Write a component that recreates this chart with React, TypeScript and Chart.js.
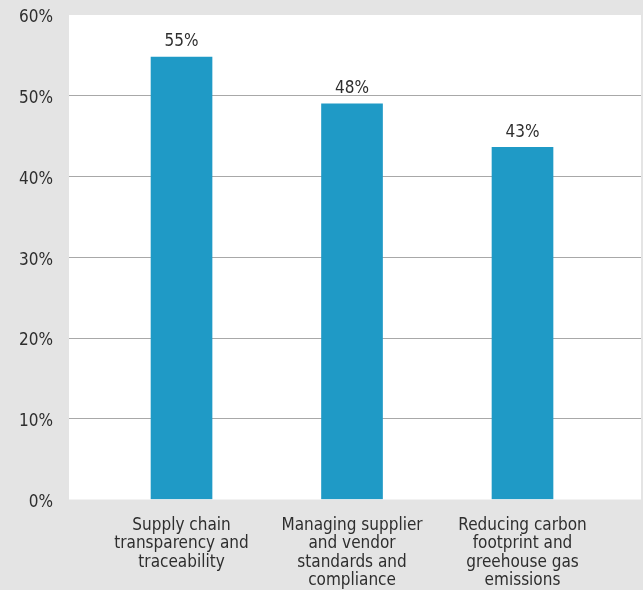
import React, { useEffect, useRef } from "react";
import { Chart, registerables } from "chart.js";

Chart.register(...registerables);

const categories: string[][] = [
  ["Supply chain", "transparency and", "traceability"],
  ["Managing supplier", "and vendor", "standards and", "compliance"],
  ["Reducing carbon", "footprint and", "greehouse gas", "emissions"],
];
const values: number[] = [54.8, 49.0, 43.6];
const valueLabels: string[] = ["55%", "48%", "43%"];
const yTicks: number[] = [0, 10, 20, 30, 40, 50, 60];

const FONT = "'DejaVu Sans Condensed', 'DejaVu Sans', sans-serif";
const TEXT = "#2e2e2e";

const plotBg = {
  id: "plotBg",
  beforeDraw(chart: any) {
    const { ctx, chartArea } = chart;
    ctx.save();
    ctx.fillStyle = "#ffffff";
    ctx.fillRect(chartArea.left, chartArea.top, chartArea.right - chartArea.left, chartArea.bottom - chartArea.top);
    ctx.restore();
  },
};

const barLabels = {
  id: "barLabels",
  afterDatasetsDraw(chart: any) {
    const { ctx } = chart;
    const meta = chart.getDatasetMeta(0);
    ctx.save();
    ctx.font = `17px ${FONT}`;
    ctx.fillStyle = TEXT;
    ctx.textAlign = "center";
    ctx.textBaseline = "middle";
    meta.data.forEach((bar: any, i: number) => {
      ctx.fillText(valueLabels[i], bar.x, bar.y - 15);
    });
    ctx.restore();
  },
};

export default function App() {
  const ref = useRef<HTMLCanvasElement | null>(null);
  useEffect(() => {
    if (!ref.current) return;
    const chart = new Chart(ref.current, {
      type: "bar",
      data: {
        datasets: [
          {
            data: values.map((v, i) => ({ x: i, y: v })),
            backgroundColor: "#1f9ac6",
            barThickness: 61,
          },
        ],
      },
      options: {
        animation: false,
        responsive: true,
        maintainAspectRatio: false,
        layout: { padding: { top: 15, right: 2, left: 0, bottom: 0 } },
        plugins: { legend: { display: false }, tooltip: { enabled: false } },
        scales: {
          x: {
            type: "linear",
            min: -0.66,
            max: 2.695,
            offset: false,
            grid: { display: false, drawTicks: false, offset: false },
            border: { display: false },
            afterBuildTicks: (scale: any) => {
              scale.ticks = categories.map((_, i) => ({ value: i }));
            },
            afterFit: (scale: any) => {
              scale.height = 90.5;
              scale.paddingLeft = 0;
              scale.paddingRight = 0;
            },
            ticks: {
              autoSkip: false,
              maxRotation: 0,
              padding: 17,
              color: TEXT,
              font: { family: FONT, size: 17, lineHeight: 1.08 },
              callback: (v: any) => categories[Math.round(Number(v))] ?? "",
            },
          },
          y: {
            min: 0,
            max: 60,
            afterBuildTicks: (scale: any) => {
              scale.ticks = yTicks.map((v) => ({ value: v }));
            },
            afterFit: (scale: any) => {
              scale.width = 69;
              scale.paddingTop = 0;
              scale.paddingBottom = 0;
            },
            grid: {
              drawTicks: false,
              lineWidth: 1,
              color: (c: any) => (c.tick && (c.tick.value === 0 || c.tick.value === 60) ? "rgba(0,0,0,0)" : "#a8a8a8"),
            },
            border: { display: false },
            ticks: {
              padding: 16,
              labelOffset: 3,
              color: TEXT,
              font: { family: FONT, size: 17 },
              callback: (v: any) => `${v}%`,
            },
          },
        },
      },
      plugins: [plotBg, barLabels],
    });
    return () => chart.destroy();
  }, []);
  return (
    <div style={{ position: "absolute", left: 0, top: 0, width: 643, height: 590, background: "#e4e4e4" }}>
      <canvas ref={ref} />
    </div>
  );
}
